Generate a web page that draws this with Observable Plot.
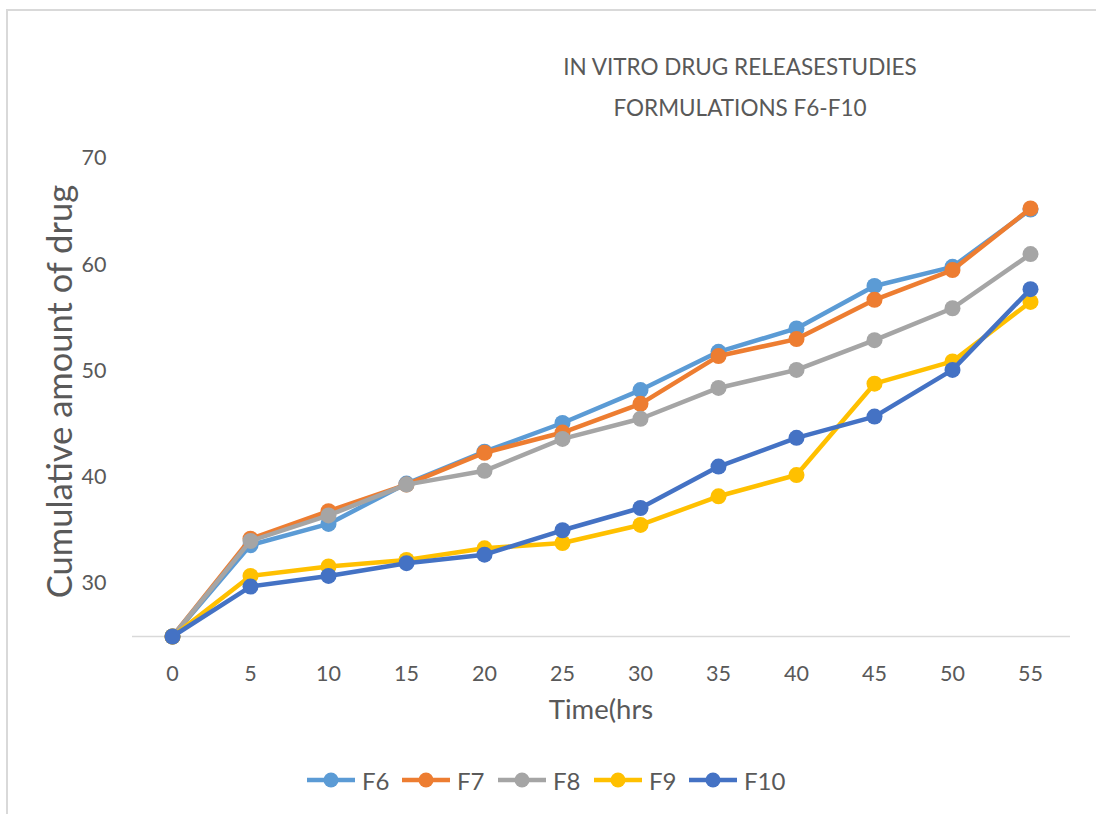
<!DOCTYPE html>
<html>
<head>
<meta charset="utf-8">
<script src="https://cdn.jsdelivr.net/npm/d3@7"></script>
<script src="https://cdn.jsdelivr.net/npm/@observablehq/plot@0.6"></script>
<style>
  html, body { margin: 0; padding: 0; background: #fff; }
  #wrap { position: relative; width: 1096px; height: 814px; overflow: hidden; font-family: Lato, "Open Sans", sans-serif; color: #595959; }
  #frame { position: absolute; left: 6px; top: 9px; right: -10px; bottom: -10px; border-left: 2px solid #d9d9d9; border-top: 2px solid #d9d9d9; }
  #title { position: absolute; left: 490px; width: 500px; top: 46px; text-align: center; font-size: 22.5px; line-height: 41px; }
  #chart { position: absolute; left: 0; top: 0; }
  #legend { position: absolute; top: 767px; left: 0; width: 1096px; height: 26px; }
  .item { position: absolute; top: 0; display: flex; align-items: center; height: 26px; font-size: 24px; }
  .item svg { margin-right: 7px; }
</style>
</head>
<body>
<div id="wrap">
  <div id="frame"></div>
  <div id="chart"></div>
  <div id="title">IN VITRO DRUG RELEASESTUDIES<br>FORMULATIONS F6-F10</div>
  <div id="legend"></div>
</div>
<script>
const times = [0, 5, 10, 15, 20, 25, 30, 35, 40, 45, 50, 55];
const seriesNames = ["F6", "F7", "F8", "F9", "F10"];
const seriesColors = ["#5B9BD5", "#ED7D31", "#A5A5A5", "#FFC000", "#4472C4"];
const F6  = [25, 33.6, 35.6, 39.4, 42.4, 45.1, 48.2, 51.8, 54.0, 58.0, 59.8, 65.2];
const F7  = [25, 34.2, 36.8, 39.3, 42.3, 44.2, 46.9, 51.4, 53.0, 56.7, 59.5, 65.3];
const F8  = [25, 34.0, 36.4, 39.3, 40.6, 43.6, 45.5, 48.4, 50.1, 52.9, 55.9, 61.0];
const F9  = [25, 30.7, 31.6, 32.2, 33.3, 33.8, 35.5, 38.2, 40.2, 48.8, 50.9, 56.5];
const F10 = [25, 29.7, 30.7, 31.9, 32.7, 35.0, 37.1, 41.0, 43.7, 45.7, 50.1, 57.7];
const yTicks = [30, 40, 50, 60, 70];
const xTitle = "Time(hrs";
const yTitle = "Cumulative amount of drug";

const seriesValues = [F6, F7, F8, F9, F10];
const data = [];
seriesNames.forEach((name, i) => {
  times.forEach((t, j) => data.push({series: name, time: t, value: seriesValues[i][j]}));
});

const marks = [
  Plot.ruleY([25], {stroke: "#d9d9d9", strokeWidth: 1.5, x1: 0, x2: 55, insetLeft: -40, insetRight: -40})
];
seriesNames.forEach((name, i) => {
  const d = data.filter(r => r.series === name);
  marks.push(Plot.line(d, {x: "time", y: "value", stroke: seriesColors[i], strokeWidth: 4.5, strokeLinejoin: "round"}));
  marks.push(Plot.dot(d, {x: "time", y: "value", fill: seriesColors[i], r: 8, stroke: "none"}));
});
marks.push(Plot.text([xTitle], {frameAnchor: "bottom", textAnchor: "middle", lineAnchor: "middle", dy: 74, fontSize: 27.5, fill: "#595959", text: d => d}));
marks.push(Plot.text([yTitle], {frameAnchor: "left", textAnchor: "middle", lineAnchor: "middle", dx: -68, dy: -6, rotate: -90, fontSize: 34.5, fill: "#595959", text: d => d}));

const chart = Plot.plot({
  width: 1096,
  height: 740,
  marginLeft: 128,
  marginRight: 23,
  marginTop: 158,
  marginBottom: 104,
  style: {fontFamily: "Lato, 'Open Sans', sans-serif", fontSize: "21.5px", color: "#595959", background: "transparent", overflow: "visible"},
  x: {type: "point", domain: times, padding: 0.5, tickSize: 0, tickPadding: 29, label: null},
  y: {type: "linear", domain: [25, 70], ticks: yTicks, tickSize: 0, tickPadding: 22, label: null},
  marks
});
document.getElementById("chart").appendChild(chart);

// legend
const legendX = [307, 402, 498, 594, 689];
const legend = document.getElementById("legend");
seriesNames.forEach((name, i) => {
  const item = document.createElement("div");
  item.className = "item";
  item.style.left = legendX[i] + "px";
  item.innerHTML = `<svg width="48" height="26"><line x1="0" y1="13" x2="48" y2="13" stroke="${seriesColors[i]}" stroke-width="4.5"/><circle cx="24" cy="13" r="7.5" fill="${seriesColors[i]}"/></svg><span>${name}</span>`;
  legend.appendChild(item);
});
</script>
</body>
</html>
